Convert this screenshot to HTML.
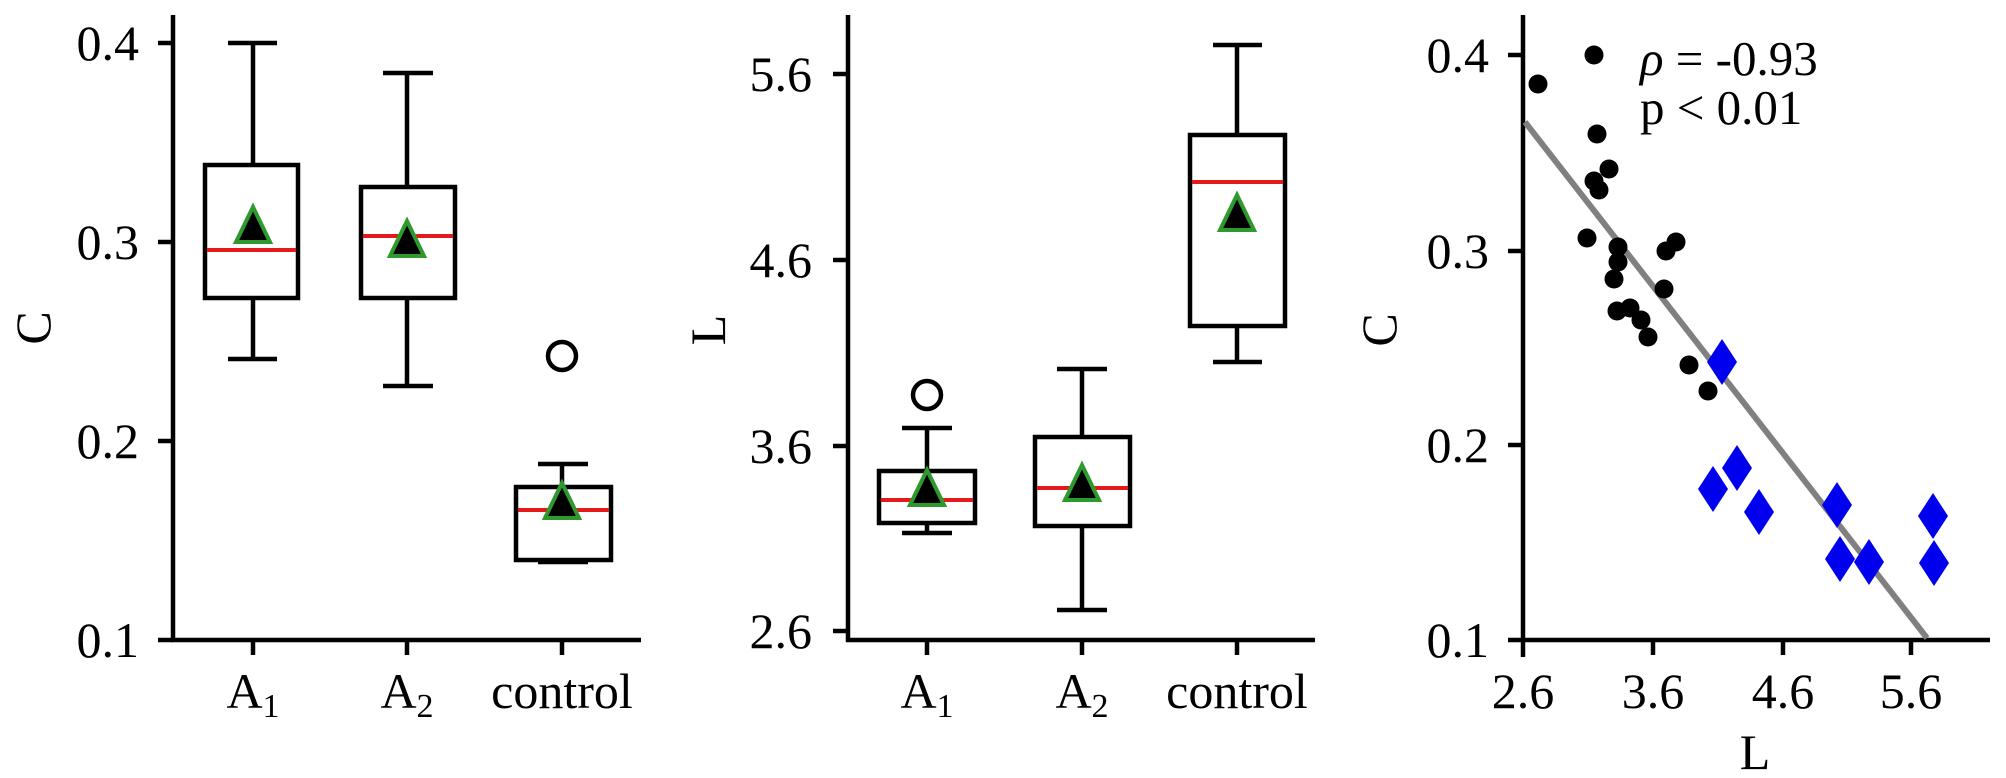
<!DOCTYPE html>
<html><head><meta charset="utf-8"><style>
html,body{margin:0;padding:0;background:#fff;}
svg{display:block;}
text{font-family:"Liberation Serif","DejaVu Serif",serif;fill:#000;}
</style></head><body>
<svg width="2006" height="778" viewBox="0 0 2006 778" xmlns="http://www.w3.org/2000/svg">
<defs>
<g id="tri"><polygon points="0,-20 17,15 -17,15" fill="#000" stroke="#2e9a2e" stroke-width="4" stroke-linejoin="miter"/></g>
</defs>
<g stroke="#000" stroke-width="4.5" fill="none">
<line x1="173" y1="15" x2="173" y2="642"/>
<line x1="171" y1="640" x2="641" y2="640"/>
<line x1="158" y1="43" x2="173" y2="43"/>
<line x1="158" y1="242" x2="173" y2="242"/>
<line x1="158" y1="441" x2="173" y2="441"/>
<line x1="158" y1="640" x2="173" y2="640"/>
<line x1="253" y1="640" x2="253" y2="655"/>
<line x1="407" y1="640" x2="407" y2="655"/>
<line x1="562" y1="640" x2="562" y2="655"/>
<line x1="253" y1="43" x2="253" y2="165"/><line x1="228" y1="43" x2="277" y2="43"/>
<line x1="253" y1="298" x2="253" y2="359"/><line x1="228" y1="359" x2="277" y2="359"/>
<rect x="205" y="165" width="93" height="133"/>
<line x1="407" y1="73" x2="407" y2="187"/><line x1="383" y1="73" x2="433" y2="73"/>
<line x1="407" y1="298" x2="407" y2="386"/><line x1="383" y1="386" x2="433" y2="386"/>
<rect x="361" y="187" width="94" height="111"/>
<line x1="562" y1="464" x2="562" y2="487"/><line x1="538" y1="464" x2="588" y2="464"/>
<line x1="538" y1="562" x2="588" y2="562"/>
<rect x="516" y="487" width="95" height="73"/>
<ellipse cx="562" cy="356" rx="14" ry="14"/>

<line x1="848" y1="15" x2="848" y2="642"/>
<line x1="846" y1="640" x2="1315" y2="640"/>
<line x1="833" y1="74" x2="848" y2="74"/>
<line x1="833" y1="260" x2="848" y2="260"/>
<line x1="833" y1="446" x2="848" y2="446"/>
<line x1="833" y1="631" x2="848" y2="631"/>
<line x1="927" y1="640" x2="927" y2="655"/>
<line x1="1082" y1="640" x2="1082" y2="655"/>
<line x1="1237" y1="640" x2="1237" y2="655"/>
<line x1="927" y1="428" x2="927" y2="471"/><line x1="902" y1="428" x2="952" y2="428"/>
<line x1="927" y1="523" x2="927" y2="533"/><line x1="902" y1="533" x2="952" y2="533"/>
<rect x="879" y="471" width="96" height="52"/>
<ellipse cx="927" cy="395" rx="14" ry="14"/>
<line x1="1082" y1="369" x2="1082" y2="437"/><line x1="1057" y1="369" x2="1107" y2="369"/>
<line x1="1082" y1="526" x2="1082" y2="610"/><line x1="1057" y1="610" x2="1107" y2="610"/>
<rect x="1035" y="437" width="95" height="89"/>
<line x1="1237" y1="45" x2="1237" y2="135"/><line x1="1213" y1="45" x2="1262" y2="45"/>
<line x1="1237" y1="326" x2="1237" y2="362"/><line x1="1213" y1="362" x2="1262" y2="362"/>
<rect x="1190" y="135" width="95" height="191"/>

<line x1="1523" y1="15" x2="1523" y2="657"/>
<line x1="1508" y1="640" x2="1990" y2="640"/>
<line x1="1508" y1="55" x2="1523" y2="55"/>
<line x1="1508" y1="251" x2="1523" y2="251"/>
<line x1="1508" y1="445" x2="1523" y2="445"/>
<line x1="1653" y1="640" x2="1653" y2="655"/>
<line x1="1783" y1="640" x2="1783" y2="655"/>
<line x1="1911" y1="640" x2="1911" y2="655"/>
</g>
<g stroke="#e41a1a" stroke-width="4">
<line x1="207" y1="250" x2="296" y2="250"/>
<line x1="363" y1="236" x2="453" y2="236"/>
<line x1="518" y1="510" x2="609" y2="510"/>
<line x1="881" y1="500" x2="973" y2="500"/>
<line x1="1037" y1="488" x2="1128" y2="488"/>
<line x1="1192" y1="182" x2="1283" y2="182"/>
</g>
<use href="#tri" x="253" y="227"/>
<use href="#tri" x="407" y="241"/>
<use href="#tri" x="562" y="503"/>
<use href="#tri" x="927" y="490"/>
<use href="#tri" x="1082" y="485"/>
<use href="#tri" x="1237" y="215"/>

<line x1="1525" y1="122" x2="1927" y2="638" stroke="#808080" stroke-width="6"/>
<g fill="#000">
<ellipse cx="1538" cy="84" rx="9.5" ry="9.5"/>
<ellipse cx="1594" cy="55" rx="9.5" ry="9.5"/>
<ellipse cx="1597" cy="134" rx="9.5" ry="9.5"/>
<ellipse cx="1609" cy="169" rx="9.5" ry="9.5"/>
<ellipse cx="1594" cy="181" rx="9.5" ry="9.5"/>
<ellipse cx="1599" cy="190" rx="9.5" ry="9.5"/>
<ellipse cx="1587" cy="238" rx="9.5" ry="9.5"/>
<ellipse cx="1618" cy="247" rx="9.5" ry="9.5"/>
<ellipse cx="1618" cy="262" rx="9.5" ry="9.5"/>
<ellipse cx="1614" cy="279" rx="9.5" ry="9.5"/>
<ellipse cx="1617" cy="311" rx="9.5" ry="9.5"/>
<ellipse cx="1630" cy="308" rx="9.5" ry="9.5"/>
<ellipse cx="1641" cy="320" rx="9.5" ry="9.5"/>
<ellipse cx="1648" cy="337" rx="9.5" ry="9.5"/>
<ellipse cx="1666" cy="251" rx="9.5" ry="9.5"/>
<ellipse cx="1676" cy="242" rx="9.5" ry="9.5"/>
<ellipse cx="1664" cy="289" rx="9.5" ry="9.5"/>
<ellipse cx="1689" cy="365" rx="9.5" ry="9.5"/>
<ellipse cx="1708" cy="391" rx="9.5" ry="9.5"/>
</g>
<g fill="#0000ee">
<polygon points="1722,339 1737,362 1722,385 1707,362"/>
<polygon points="1713,466 1728,489 1713,512 1698,489"/>
<polygon points="1737,445 1752,468 1737,491 1722,468"/>
<polygon points="1759,489 1774,512 1759,535 1744,512"/>
<polygon points="1837,482 1852,505 1837,528 1822,505"/>
<polygon points="1840,536 1855,559 1840,582 1825,559"/>
<polygon points="1869,539 1884,562 1869,585 1854,562"/>
<polygon points="1933,493 1948,516 1933,539 1918,516"/>
<polygon points="1934,540 1949,563 1934,586 1919,563"/>
</g>

<g font-size="50" text-anchor="end">
<text x="139" y="60">0.4</text>
<text x="139" y="259">0.3</text>
<text x="139" y="458">0.2</text>
<text x="139" y="657">0.1</text>
<text x="812" y="91">5.6</text>
<text x="812" y="277">4.6</text>
<text x="812" y="463">3.6</text>
<text x="812" y="648">2.6</text>
<text x="1489" y="72">0.4</text>
<text x="1489" y="268">0.3</text>
<text x="1489" y="462">0.2</text>
<text x="1489" y="657">0.1</text>
</g>
<g font-size="50" text-anchor="middle">
<text x="253" y="708">A<tspan font-size="34" dy="9">1</tspan></text>
<text x="407" y="708">A<tspan font-size="34" dy="9">2</tspan></text>
<text x="562" y="708">control</text>
<text x="927" y="708">A<tspan font-size="34" dy="9">1</tspan></text>
<text x="1082" y="708">A<tspan font-size="34" dy="9">2</tspan></text>
<text x="1237" y="708">control</text>
<text x="1523" y="708">2.6</text>
<text x="1653" y="708">3.6</text>
<text x="1783" y="708">4.6</text>
<text x="1911" y="708">5.6</text>
<text x="1755" y="769">L</text>
<text transform="translate(50,328) rotate(-90)">C</text>
<text transform="translate(725,330) rotate(-90)">L</text>
<text transform="translate(1396,330) rotate(-90)">C</text>
</g>
<g font-size="49">
<text x="1640" y="75"><tspan font-style="italic">ρ</tspan> = -0.93</text>
<text x="1640" y="124">p &lt;  0.01</text>
</g>
</svg>
</body></html>
